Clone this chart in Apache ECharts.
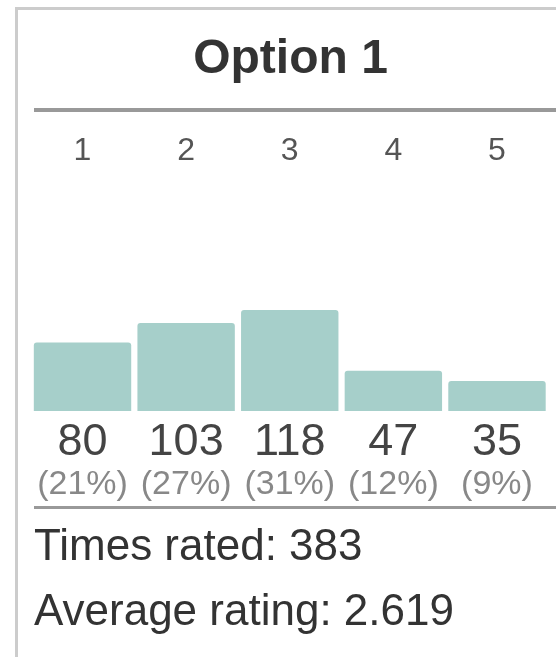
<!DOCTYPE html>
<html>
<head>
<meta charset="utf-8">
<script src="https://cdn.jsdelivr.net/npm/echarts@6/dist/echarts.min.js"></script>
<style>
  html, body { margin: 0; padding: 0; background: #fff; }
  #chart { width: 556px; height: 657px; }
</style>
</head>
<body>
<div id="chart"></div>
<script>
var titleText = 'Option 1';
var ratings = ['1', '2', '3', '4', '5'];
var counts = [80, 103, 118, 47, 35];
var percents = [21, 27, 31, 12, 9];

// totals for the footer
var total = 0, weighted = 0;
for (var i = 0; i < counts.length; i++) {
    total += counts[i];
    weighted += counts[i] * (i + 1);
}
var average = (weighted / total).toFixed(3);

var myChart = echarts.init(document.getElementById('chart'));
var font = '"Liberation Sans", Arial, sans-serif';

var option = {
    backgroundColor: '#fff',
    animation: false,
    grid: { left: 30.7, right: 7.2, top: 240, bottom: 246 },
    xAxis: [
        {
            type: 'category',
            data: ratings,
            position: 'top',
            axisLine: { show: false },
            axisTick: { show: false },
            axisLabel: { margin: 73, fontSize: 32, color: '#555', fontFamily: font }
        },
        {
            type: 'category',
            data: ratings,
            position: 'bottom',
            axisLine: { show: false },
            axisTick: { show: false },
            axisLabel: {
                margin: 9,
                fontFamily: font,
                formatter: function (v, idx) {
                    return '{v|' + counts[idx] + '}\n{p|(' + percents[idx] + '%)}';
                },
                rich: {
                    v: { fontSize: 45, color: '#444', lineHeight: 45, fontFamily: font },
                    p: { fontSize: 34, color: '#888', lineHeight: 40, fontFamily: font }
                }
            }
        }
    ],
    yAxis: {
        type: 'value',
        min: 0,
        max: 200,
        show: false
    },
    series: [{
        type: 'bar',
        data: counts,
        xAxisIndex: 0,
        barCategoryGap: '6%',
        itemStyle: { color: '#a6cfca', borderRadius: [3, 3, 0, 0] },
        silent: true
    }],
    graphic: [
        // frame
        { type: 'line', shape: { x1: 16, y1: 8.5, x2: 556, y2: 8.5 }, style: { stroke: '#ccc', lineWidth: 3 } },
        { type: 'line', shape: { x1: 16.5, y1: 7, x2: 16.5, y2: 657 }, style: { stroke: '#ccc', lineWidth: 3 } },
        // title and rules
        { type: 'text', x: 290.5, y: 60, style: { text: titleText, font: 'bold 48px ' + font, fill: '#333', align: 'center', verticalAlign: 'middle' } },
        { type: 'line', shape: { x1: 34, y1: 110, x2: 556, y2: 110 }, style: { stroke: '#999', lineWidth: 4 } },
        { type: 'line', shape: { x1: 34, y1: 507.5, x2: 556, y2: 507.5 }, style: { stroke: '#999', lineWidth: 3 } },
        // footer
        { type: 'text', x: 34, y: 548, style: { text: 'Times rated: ' + total, font: '44px ' + font, fill: '#333', verticalAlign: 'middle' } },
        { type: 'text', x: 34, y: 613, style: { text: 'Average rating: ' + average, font: '44px ' + font, fill: '#333', verticalAlign: 'middle' } }
    ]
};
myChart.setOption(option);
</script>
</body>
</html>
